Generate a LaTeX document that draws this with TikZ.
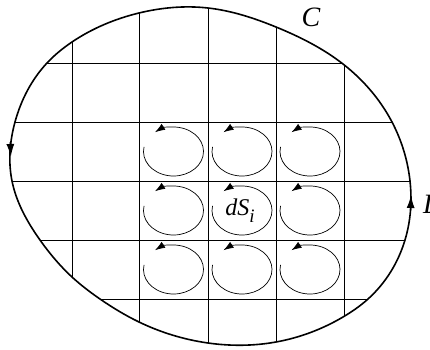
\documentclass[tikz,border=0pt]{standalone}
\usepackage{fontspec}
\setmainfont{Liberation Serif}
\usetikzlibrary{arrows.meta,hobby}
\begin{document}
\begin{tikzpicture}[x=1pt,y=1pt,
  gridline/.style={line width=1pt,black},
  boundary/.style={line width=1.6pt,black},
  loop/.style={line width=0.7pt,black,-{Latex[length=10pt,width=7pt]}},
  bigarrow/.style={line width=1.6pt,-{Latex[length=13pt,width=8pt]}},
  lbl/.style={font=\fontsize{28}{32}\selectfont\itshape,inner sep=0pt}]
\useasboundingbox (0,0) rectangle (430,349);
\def\curvepath{plot[closed hobby] coordinates {(139,336) (208,341) (276,322) (343,285) (392,227)
  (410,168) (405,109) (368,50) (343,32) (276,7) (208,6)
  (139,27) (100,50) (72,72) (40,109) (12,168) (15,227)
  (47,286) (72,307)}}
\begin{scope}
  \clip \curvepath;
  \foreach \x in {72,139,208,276,344} \draw[gridline] (\x,0) -- (\x,349);
  \foreach \y in {286,227,168,109,50} \draw[gridline] (0,\y) -- (430,\y);
\end{scope}
\draw[boundary] \curvepath;
\coordinate (la) at (10.3,207);
\coordinate (lb) at (10.8,192);
\draw[bigarrow] (la) -- (lb);
\coordinate (ra) at (410.6,139);
\coordinate (rb) at (411,154);
\draw[bigarrow] (ra) -- (rb);
\foreach \cx in {173.5,242,310}
  \foreach \cy in {197.5,138.5,79.5}
    \draw[loop] ([shift={(169:30pt and 24.5pt)}]\cx,\cy) arc[start angle=169,end angle=488,x radius=30,y radius=24.5];
\node[font=\fontsize{24}{26}\selectfont\itshape,inner sep=0pt] (ds) at (240,138) {dS\raisebox{-0.28em}{\fontsize{19}{19}\selectfont i}};
\node[lbl] (c) at (311,332) {C};
\node[lbl,anchor=west] (l) at (423,145) {L};
\end{tikzpicture}
\end{document}
